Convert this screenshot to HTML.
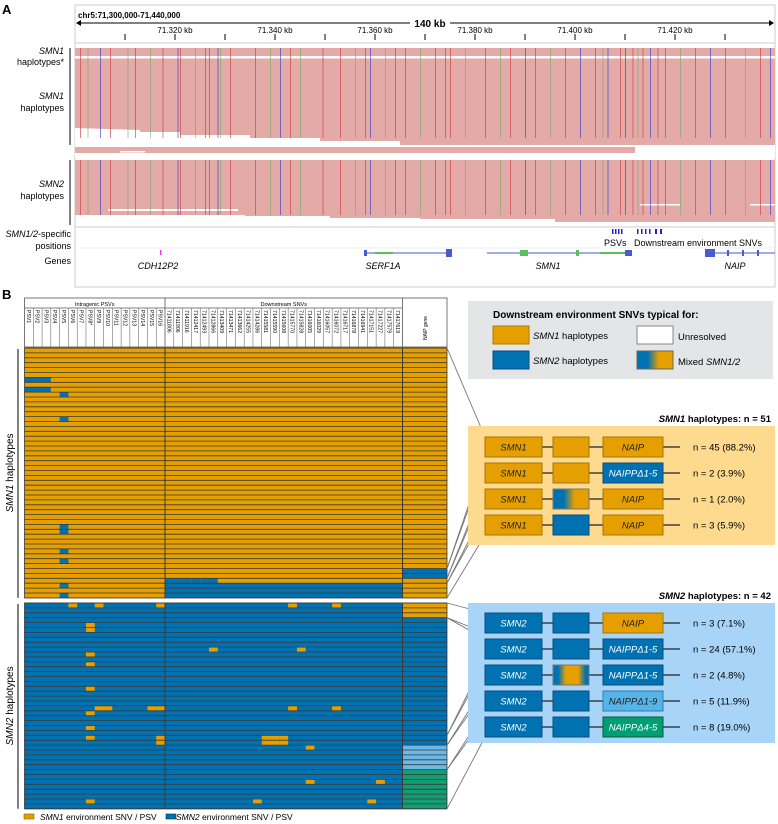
<!DOCTYPE html>
<html><head><meta charset="utf-8"><style>
body{margin:0;background:#fff;}
svg{display:block;font-family:"Liberation Sans",sans-serif;}
</style></head><body>
<svg id="fig" width="778" height="824" viewBox="0 0 778 824" xmlns="http://www.w3.org/2000/svg">
<!-- Panel A -->
<text x="2" y="14" font-size="13" font-weight="bold">A</text>
<g>
<rect x="75" y="5" width="700" height="282" fill="#fff" stroke="#ccc"/>
<text x="78" y="18" font-size="8" font-weight="bold">chr5:71,300,000-71,440,000</text>
<line x1="78" y1="23" x2="772" y2="23" stroke="#000" stroke-width="1"/>
<path d="M76 23 l5 -3 v6z M774 23 l-5 -3 v6z" fill="#000"/>
<rect x="410" y="16" width="40" height="12" fill="#fff"/>
<text x="430" y="27" font-size="10" font-weight="bold" text-anchor="middle">140 kb</text>
<g id="ticks"></g>
<line x1="75" y1="43" x2="775" y2="43" stroke="#ccc"/>
<rect x="75" y="48" width="700" height="110" fill="#fff"/>
<polygon points="75,48 775,48 775,145 400,145 400,141 320,141 320,138 250,138 250,135 180,135 180,132 140,132 140,130 75,128" fill="#e3aaa8"/>
<rect x="75" y="147" width="560" height="6" fill="#e3aaa8"/>
<rect x="75" y="56" width="700" height="2.5" fill="#fff"/>
<rect x="120" y="151" width="25" height="1.5" fill="#fff"/>
<polygon points="75,160 775,160 775,222 555,222 555,219 420,219 420,218 330,218 330,216 245,216 245,215 75,215" fill="#e3aaa8"/>
<rect x="108" y="209" width="130" height="2" fill="#fff"/><rect x="640" y="204" width="40" height="1.5" fill="#fff"/><rect x="750" y="204" width="25" height="1.5" fill="#fff"/>
<g id="stripes"></g>
<line x1="75" y1="227" x2="775" y2="227" stroke="#ccc"/>
<g fill="#2222cc">
<rect x="612" y="229" width="1.5" height="5"/><rect x="615" y="229" width="1.5" height="5"/><rect x="618" y="229" width="1.5" height="5"/><rect x="621" y="229" width="1.5" height="5"/>
<rect x="637" y="229" width="1.5" height="5"/><rect x="641" y="229" width="1.5" height="5"/><rect x="645" y="229" width="1.5" height="5"/><rect x="649" y="229" width="1.5" height="5"/><rect x="655" y="229" width="2" height="5"/><rect x="660" y="229" width="2" height="5"/>
</g>
<text x="604" y="246" font-size="9">PSVs</text>
<text x="634" y="246" font-size="9">Downstream environment SNVs</text>
<line x1="75" y1="248" x2="775" y2="248" stroke="#eee"/>
<g>
<rect x="160" y="250" width="1.5" height="5" fill="#e040e0"/>
<line x1="365" y1="253" x2="452" y2="253" stroke="#4a5ad0"/><rect x="364" y="250" width="3" height="6" fill="#4a5ad0"/><rect x="375" y="252" width="18" height="2" fill="#5ac05a"/><rect x="446" y="249" width="6" height="8" fill="#4a5ad0"/>
<line x1="487" y1="253" x2="632" y2="253" stroke="#4a5ad0"/><rect x="520" y="250" width="8" height="6" fill="#5ac05a"/><rect x="576" y="250" width="3" height="6" fill="#5ac05a"/><rect x="600" y="252" width="25" height="2" fill="#5ac05a"/><rect x="625" y="250" width="7" height="6" fill="#4a5ad0"/>
<line x1="705" y1="253" x2="775" y2="253" stroke="#4a5ad0"/><rect x="705" y="249" width="10" height="8" fill="#4a5ad0"/><rect x="727" y="250" width="2" height="6" fill="#4a5ad0"/><rect x="742" y="250" width="2" height="6" fill="#4a5ad0"/><rect x="757" y="250" width="2" height="6" fill="#4a5ad0"/>
</g>
<g font-size="9" font-style="italic" text-anchor="middle">
<text x="158" y="269">CDH12P2</text>
<text x="383" y="269">SERF1A</text>
<text x="548" y="269">SMN1</text>
<text x="735" y="269">NAIP</text>
</g>
</g>
<g font-size="9" text-anchor="end">
<text x="64" y="54" font-style="italic">SMN1</text><text x="64" y="65">haplotypes*</text>
<text x="64" y="99" font-style="italic">SMN1</text><text x="64" y="111">haplotypes</text>
<line x1="70" y1="48" x2="70" y2="145" stroke="#000"/>
<text x="64" y="187" font-style="italic">SMN2</text><text x="64" y="199">haplotypes</text>
<line x1="70" y1="160" x2="70" y2="225" stroke="#000"/>
<text x="71" y="237"><tspan font-style="italic">SMN1/2</tspan>-specific</text><text x="71" y="249">positions</text>
<text x="71" y="264">Genes</text>
</g>

<!-- Panel B -->
<text x="2" y="299" font-size="13" font-weight="bold">B</text>
<g id="grid"></g>
<g id="conn"></g>

<g>
<rect x="468" y="301" width="305" height="78" fill="#e4e5e7"/>
<text x="493" y="318" font-size="10" font-weight="bold">Downstream environment SNVs typical for:</text>
<rect x="493" y="326" width="36" height="18" fill="#E69F00" stroke="#b07800"/>
<text x="533" y="339" font-size="9.5"><tspan font-style="italic">SMN1</tspan> haplotypes</text>
<rect x="493" y="351" width="36" height="18" fill="#0072B2" stroke="#0a4a80"/>
<text x="533" y="364" font-size="9.5"><tspan font-style="italic">SMN2</tspan> haplotypes</text>
<rect x="637" y="326" width="36" height="18" fill="#fff" stroke="#888"/>
<text x="678" y="340" font-size="9.5">Unresolved</text>
<rect x="637" y="351" width="36" height="18" fill="url(#mix1)" stroke="#666"/>
<text x="678" y="365" font-size="9.5">Mixed <tspan font-style="italic">SMN1/2</tspan></text>
</g>
<defs>
<linearGradient id="mix1" x1="0" x2="1" y1="0" y2="0"><stop offset="0.3" stop-color="#0072B2"/><stop offset="0.6" stop-color="#E69F00"/></linearGradient>
<linearGradient id="mix2" x1="0" x2="1" y1="0" y2="0"><stop offset="0.15" stop-color="#0072B2"/><stop offset="0.35" stop-color="#E69F00"/><stop offset="0.7" stop-color="#E69F00"/><stop offset="0.9" stop-color="#0072B2"/></linearGradient>
</defs>
<text x="771" y="422" font-size="9.5" font-weight="bold" text-anchor="end"><tspan font-style="italic">SMN1</tspan> haplotypes: n = 51</text>
<rect x="468" y="426" width="307" height="119" fill="#fdda8e"/>
<text x="771" y="599" font-size="9.5" font-weight="bold" text-anchor="end"><tspan font-style="italic">SMN2</tspan> haplotypes: n = 42</text>
<rect x="468" y="603" width="307" height="140" fill="#a8d5f7"/>
<g id="summary"></g>

<g font-size="8.5">
<rect x="24" y="814" width="10" height="5" fill="#E69F00" stroke="#8a6000" stroke-width="0.6"/>
<text x="40" y="820"><tspan font-style="italic">SMN1</tspan> environment SNV / PSV</text>
<rect x="166" y="814" width="10" height="5" fill="#0072B2" stroke="#033" stroke-width="0.6"/>
<text x="176" y="820"><tspan font-style="italic">SMN2</tspan> environment SNV / PSV</text>
</g>
</svg>
<script>
// ---- data ----
const psvLabels = ["PSV1","PSV2","PSV3","PSV4","PSV5","PSV6","PSV7","PSV8*","PSV9","PSV10","PSV11","PSV12","PSV13","PSV14","PSV15","PSV16"];
const snvLabels = ["71411806","71411906","71411916","71412417","71412493","71412866","71413409","71413471","71413662","71414255","71414286","71415581","71415590","71415608","71415770","71415828","71416005","71416029","71416057","71416072","71416717","71416878","71416941","71417151","71417227","71417579","71417619"];
const rulerLabels = ["71.320 kb","71.340 kb","71.360 kb","71.380 kb","71.400 kb","71.420 kb"];
const rulerPositions = [71320,71340,71360,71380,71400,71420];
const smn1Count = 51;
const smn2Count = 42;
// SMN1 rows: cells showing SMN2-type allele [row, col]
const smn1PsvFlip = [[6,0],[6,1],[6,2],[8,0],[8,1],[8,2],[9,4],[14,4],[36,4],[37,4],[41,4],[43,4],[48,4],[50,4]];
const smn1SnvFlip = [[47,0],[47,1],[47,2],[47,3],[47,4],[47,5]];
const smn1SnvFullFlipRows = [48,49,50];
const smn1NaipType = ["o","o","o","o","o","o","o","o","o","o","o","o","o","o","o","o","o","o","o","o","o","o","o","o","o","o","o","o","o","o","o","o","o","o","o","o","o","o","o","o","o","o","o","o","o","b","b","o","o","o","o"];
// SMN2 rows: cells showing SMN1-type allele [row, col]
const smn2PsvFlip = [[0,5],[0,8],[0,15],[4,7],[5,7],[10,7],[12,7],[17,7],[21,8],[21,9],[21,14],[21,15],[22,7],[25,7],[27,7],[27,15],[28,15],[40,7]];
const smn2SnvFlip = [[0,14],[0,19],[9,5],[9,15],[21,14],[21,19],[27,11],[27,12],[27,13],[28,11],[28,12],[28,13],[29,16],[36,16],[36,24],[40,10],[40,23]];
const smn2NaipType = ["o","o","o","b","b","b","b","b","b","b","b","b","b","b","b","b","b","b","b","b","b","b","b","b","b","b","b","b","b","l","l","l","l","l","g","g","g","g","g","g","g","g"];
// summary groups
const smn1Groups = [["SMN1","o","NAIP","o",45,"88.2"],["SMN1","o","NAIPPΔ1-5","b",2,"3.9"],["SMN1","m","NAIP","o",1,"2.0"],["SMN1","b","NAIP","o",3,"5.9"]];
const smn2Groups = [["SMN2","b","NAIP","o",3,"7.1"],["SMN2","b","NAIPPΔ1-5","b",24,"57.1"],["SMN2","m2","NAIPPΔ1-5","b",2,"4.8"],["SMN2","b","NAIPPΔ1-9","l",5,"11.9"],["SMN2","b","NAIPPΔ4-5","g",8,"19.0"]];
// pileup stripe genomic positions (kb) and colors
const stripeKb = [71301,71302.5,71305,71307,71310.5,71312,71315,71317.5,71320.5,71321,71324,71326,71326.8,71328.5,71329,71331,71336,71339,71341,71343,71345,71349.5,71353,71356,71358,71359,71362,71364,71366,71369,71372,71374,71375,71378,71382,71385,71387,71390,71392,71395,71398,71401,71404,71405.5,71406.5,71409,71410,71411.5,71412.5,71413.5,71415,71416.5,71418,71421,71424,71427,71430,71434,71437,71439];
const stripeColors = ["#c33","#7a6","#33c","#c33","#7a6","#c33","#7a6","#c33","#33c","#c33","#7a6","#c33","#c33","#33c","#7a6","#c33","#c33","#7a6","#33c","#c33","#7a6","#c33","#c33","#7a6","#c33","#33c","#7a6","#c33","#c33","#7a6","#8833dd","#c33","#c33","#7a6","#c33","#7a6","#c33","#33c","#c33","#7a6","#c33","#33c","#c33","#7a6","#33c","#c33","#33c","#c33","#7a6","#c33","#33c","#c33","#c33","#7a6","#c33","#33c","#c33","#7a6","#c33","#33c"];

const NS="http://www.w3.org/2000/svg";
function mk(tag, attrs, parent){const e=document.createElementNS(NS,tag);for(const k in attrs)e.setAttribute(k,attrs[k]);parent.appendChild(e);return e;}
const kbX = kb => 75 + (kb-71300)/140*700;

// ruler
const tg=document.getElementById('ticks');
for(let k=71310;k<=71430;k+=10){const l=mk('line',{x1:kbX(k),x2:kbX(k),y1:34,y2:40,stroke:'#000'},tg);

}
rulerLabels.forEach((t,i)=>{const e=mk('text',{x:kbX(rulerPositions[i]),y:33,'font-size':8,'text-anchor':'middle'},tg);e.textContent=t;

});
// stripes
const sg=document.getElementById('stripes');
stripeKb.forEach((k,i)=>{
 const a=mk('rect',{x:kbX(k),y:48,width:1,height:90,fill:stripeColors[i],opacity:0.6},sg);
 
 
 const b=mk('rect',{x:kbX(k),y:160,width:1,height:55,fill:stripeColors[i],opacity:0.6},sg);
 
 
});

// grid
const g=document.getElementById('grid');
const X0=24.5, XP=165, XS=402.5, XN=447;
const pw=(XP-X0)/16, sw=(XS-XP)/27;
const H0=298, H1=308, H2=347;
const rowH=4.9, y1Start=348, y2Start=603;
const col={o:"#E69F00",b:"#0072B2",l:"#6cb8e6",g:"#129e73"};
// header
mk('rect',{x:X0,y:H0,width:XN-X0,height:H2-H0,fill:'#fff',stroke:'#555','stroke-width':0.8},g);
mk('line',{x1:X0,y1:H1,x2:XS,y2:H1,stroke:'#555','stroke-width':0.8},g);
mk('line',{x1:XP,y1:H0,x2:XP,y2:H2,stroke:'#555','stroke-width':0.8},g);
mk('line',{x1:XS,y1:H0,x2:XS,y2:H2,stroke:'#555','stroke-width':0.8},g);
let t=mk('text',{x:(X0+XP)/2,y:306,'font-size':5.5,'text-anchor':'middle'},g);t.textContent="Intragenic PSVs";


t=mk('text',{x:(XP+XS)/2,y:306,'font-size':5.5,'text-anchor':'middle'},g);t.textContent="Downstream SNVs";


t=mk('text',{x:0,y:0,'font-size':5,'text-anchor':'middle',transform:`translate(${(XS+XN)/2+2},328) rotate(-90)`},g);t.textContent="NAIP gene";


psvLabels.forEach((s,i)=>{const x=X0+i*pw;
 if(i>0)mk('line',{x1:x,y1:H1,x2:x,y2:H2,stroke:'#555','stroke-width':0.5},g);
 const e=mk('text',{x:0,y:0,'font-size':5.2,transform:`translate(${x+pw/2-2},310) rotate(90)`},g);e.textContent=s;
 
 });
snvLabels.forEach((s,i)=>{const x=XP+i*sw;
 if(i>0)mk('line',{x1:x,y1:H1,x2:x,y2:H2,stroke:'#555','stroke-width':0.5},g);
 const e=mk('text',{x:0,y:0,'font-size':5.2,transform:`translate(${x+sw/2-2},310) rotate(90)`},g);e.textContent=s;
 
 });

function drawBlock(n, yStart, base, other, psvFlip, snvFlip, fullRows, naip, name){
 const bg=mk('g',{},g);
 
 
 for(let r=0;r<n;r++){
  const y=yStart+r*rowH;
  const full=fullRows.includes(r);
  const a=mk('rect',{x:X0,y:y,width:XP-X0,height:rowH,fill:col[base]},bg);
  
  
  mk('rect',{x:XP,y:y,width:XS-XP,height:rowH,fill:full?col[other]:col[base]},bg);
  const c=mk('rect',{x:XS,y:y,width:XN-XS,height:rowH,fill:col[naip[r]]},bg);
  
  
 }
 psvFlip.forEach(([r,c])=>{const e=mk('rect',{x:X0+c*pw,y:yStart+r*rowH,width:pw,height:rowH,fill:col[other]},bg);
  
  });
 snvFlip.forEach(([r,c])=>{const e=mk('rect',{x:XP+c*sw,y:yStart+r*rowH,width:sw,height:rowH,fill:col[other]},bg);
  
  });
 for(let r=0;r<=n;r++){mk('line',{x1:X0,x2:XN,y1:yStart+r*rowH,y2:yStart+r*rowH,stroke:'#3a3a3a','stroke-width':0.8},bg);}
 mk('line',{x1:XP,x2:XP,y1:yStart,y2:yStart+n*rowH,stroke:'#3a3a3a','stroke-width':1},bg);
 mk('line',{x1:XS,x2:XS,y1:yStart,y2:yStart+n*rowH,stroke:'#3a3a3a','stroke-width':1},bg);
 mk('rect',{x:X0,y:yStart,width:XN-X0,height:n*rowH,fill:'none',stroke:'#3a3a3a','stroke-width':0.8},bg);
}
drawBlock(smn1Count,y1Start,'o','b',smn1PsvFlip,smn1SnvFlip,smn1SnvFullFlipRows,smn1NaipType,'smn1-block');
drawBlock(smn2Count,y2Start,'b','o',smn2PsvFlip,smn2SnvFlip,[],smn2NaipType,'smn2-block');
// side labels
[[y1Start,smn1Count,'SMN1','smn1-axis-label'],[y2Start,smn2Count,'SMN2','smn2-axis-label']].forEach(([ys,n,lab,nm])=>{
 mk('line',{x1:18,x2:18,y1:ys+1,y2:ys+n*rowH,stroke:'#000'},g);
 const e=mk('text',{x:0,y:0,'font-size':10,'text-anchor':'middle',transform:`translate(13,${ys+n*rowH/2}) rotate(-90)`},g);
 e.innerHTML=`<tspan font-style="italic">${lab}</tspan> haplotypes`;
 
 
});

// summary rows + connectors
const sm=document.getElementById('summary'), cn=document.getElementById('conn');
const fillOf={o:"#E69F00",b:"#0072B2",l:"#56B4E9",g:"#009E73",m:"url(#mix1)",m2:"url(#mix2)"};
const strokeOf={o:"#a87400",b:"#0b4c7c",l:"#2a7fae",g:"#0a5a3e",m:"#777",m2:"#777"};
function drawGroups(groups, yTop, yStartGrid, nameBase){
 let cum=0;
 groups.forEach((gr,i)=>{
  const cy=yTop+i*26; const by=cy-10;
  const [g1,mid,g2,nt,n,pct]=gr;
  const row=mk('g',{},sm);
  
  
  mk('line',{x1:542,x2:680,y1:cy,y2:cy,stroke:'#222','stroke-width':1.2},row);
  mk('rect',{x:485,y:by,width:57,height:20,fill:fillOf[g1==='SMN1'?'o':'b'],stroke:strokeOf[g1==='SMN1'?'o':'b']},row);
  let t=mk('text',{x:513.5,y:cy+3.5,'font-size':9.5,'font-style':'italic','text-anchor':'middle',fill:g1==='SMN1'?'#222':'#fff'},row);t.textContent=g1;
  mk('rect',{x:553,y:by,width:36,height:20,fill:fillOf[mid],stroke:strokeOf[mid]},row);
  mk('rect',{x:603,y:by,width:60,height:20,fill:fillOf[nt],stroke:strokeOf[nt]},row);
  t=mk('text',{x:633,y:cy+3.5,'font-size':9.5,'font-style':'italic','text-anchor':'middle',fill:(nt==='o'||nt==='l')?'#222':'#fff'},row);t.textContent=g2;
  t=mk('text',{x:693,y:cy+3.5,'font-size':9.5},row);t.textContent=`n = ${n} (${pct}%)`;
  const yA=yStartGrid+cum*rowH, yB=yStartGrid+(cum+n)*rowH;
  const l1=mk('line',{x1:XN,y1:yA,x2:485,y2:by,stroke:'#777','stroke-width':0.9},cn);
  
  
  const l2=mk('line',{x1:XN,y1:yB,x2:485,y2:by+20,stroke:'#777','stroke-width':0.9},cn);
  
  
  cum+=n;
 });
}
drawGroups(smn1Groups,447,y1Start,'smn1-summary');
drawGroups(smn2Groups,623,y2Start,'smn2-summary');
</script>
</body></html>
